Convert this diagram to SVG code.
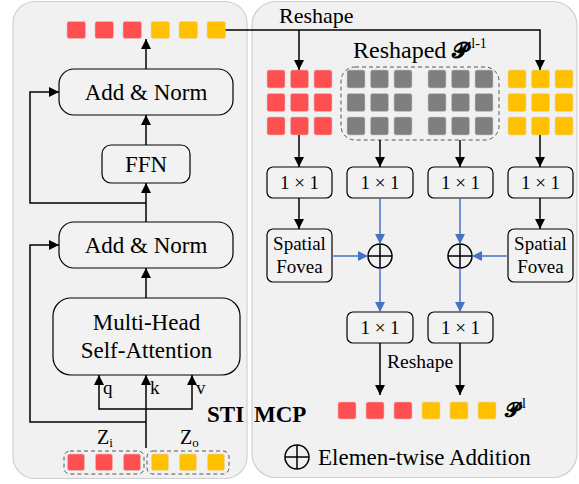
<svg xmlns="http://www.w3.org/2000/svg" width="579" height="484" viewBox="0 0 579 484" font-family="'Liberation Serif', 'DejaVu Serif', serif">
  <style>
    .panel { fill: #f1f1f1; stroke: #cfcfcf; stroke-width: 1.2; }
    .box { fill: #f2f2f2; stroke: #000; stroke-width: 1.2; }
    text { font-family: 'Liberation Serif', 'DejaVu Serif', serif; fill: #000; }
    .b { font-weight: bold; }
    .red { fill: #fe5050; stroke: #e3c0c0; stroke-width: 0.6; }
    .yel { fill: #ffc000; stroke: #e6d7b0; stroke-width: 0.6; }
    .gry { fill: #7f7f7f; stroke: #c8c8c8; stroke-width: 0.6; }
    .wire { fill: none; stroke: #000; stroke-width: 1.5; }
    .blue { fill: none; stroke: #4472c4; stroke-width: 1.5; }
    .dash { fill: none; stroke: #555; stroke-width: 1; stroke-dasharray: 4 3; }
    .script { font-family: 'DejaVu Serif', 'DejaVu Sans', 'Noto Sans', serif; font-weight: bold; }
  </style>
  <defs>
    <marker id="ah" viewBox="0 0 10 10" refX="10" refY="5" markerWidth="10" markerHeight="10" markerUnits="userSpaceOnUse" orient="auto">
      <path d="M0,0 L10,5 L0,10 z" fill="#000"/>
    </marker>
    <marker id="ahb" viewBox="0 0 10 10" refX="10" refY="5" markerWidth="10" markerHeight="10" markerUnits="userSpaceOnUse" orient="auto">
      <path d="M0,0 L10,5 L0,10 z" fill="#4472c4"/>
    </marker>
    <g id="oplus">
      <circle cx="0" cy="0" r="12" fill="none" stroke="#000" stroke-width="1.5"/>
      <path d="M-12,0 H12 M0,-12 V12" stroke="#000" stroke-width="1.5"/>
    </g>
  </defs>

  <!-- panels -->
  <rect class="panel" x="13" y="1.5" width="234" height="477" rx="22"/>
  <rect class="panel" x="252" y="1.5" width="325" height="476" rx="24"/>

  <!-- STI: transformer block -->
  <g id="sti-out-tokens">
    <rect class="red" x="67" y="21.5" width="18.5" height="17" rx="2"/>
    <rect class="red" x="95" y="21.5" width="18.5" height="17" rx="2"/>
    <rect class="red" x="123" y="21.5" width="18.5" height="17" rx="2"/>
    <rect class="yel" x="151" y="21.5" width="18.5" height="17" rx="2"/>
    <rect class="yel" x="179" y="21.5" width="18.5" height="17" rx="2"/>
    <rect class="yel" x="207" y="21.5" width="18.5" height="17" rx="2"/>
  </g>
  <g id="add-norm-2">
    <rect class="box" x="59" y="69" width="174" height="46" rx="15"/>
    <text x="146" y="100" font-size="23" text-anchor="middle">Add &amp; Norm</text>
  </g>
  <g id="ffn">
    <rect class="box" x="102" y="145" width="88" height="38" rx="9"/>
    <text x="146" y="172" font-size="23" text-anchor="middle">FFN</text>
  </g>
  <g id="add-norm-1">
    <rect class="box" x="59" y="222" width="174" height="46" rx="15"/>
    <text x="146" y="253" font-size="23" text-anchor="middle">Add &amp; Norm</text>
  </g>
  <g id="mhsa">
    <rect class="box" x="53" y="298" width="187" height="77" rx="18"/>
    <text x="146.5" y="330" font-size="23" text-anchor="middle">Multi-Head</text>
    <text x="146.5" y="358" font-size="23" text-anchor="middle">Self-Attention</text>
  </g>
  <g id="sti-in-tokens">
    <rect class="dash" x="64" y="451" width="80" height="23" rx="6"/>
    <rect class="dash" x="147" y="451" width="82" height="23" rx="6"/>
    <rect class="red" x="67.5" y="454" width="17" height="16.5" rx="2"/>
    <rect class="red" x="95.5" y="454" width="17" height="16.5" rx="2"/>
    <rect class="red" x="123.5" y="454" width="17" height="16.5" rx="2"/>
    <rect class="yel" x="151.5" y="454" width="17" height="16.5" rx="2"/>
    <rect class="yel" x="179.5" y="454" width="17" height="16.5" rx="2"/>
    <rect class="yel" x="207.5" y="454" width="17" height="16.5" rx="2"/>
    <text x="97" y="444" font-size="20">Z<tspan font-size="13" dy="3">i</tspan></text>
    <text x="180" y="444" font-size="20">Z<tspan font-size="13" dy="3">o</tspan></text>
  </g>
  <text x="103" y="394" font-size="19">q</text>
  <text x="150" y="394" font-size="19">k</text>
  <text x="196" y="394" font-size="19">v</text>
  <text class="b" x="207" y="422" font-size="23">STI</text>

  <!-- MCP: multi-scale patch branch -->
  <g id="grid-red">
    <rect class="red" x="267" y="70" width="18" height="18" rx="2"/>
    <rect class="red" x="290.5" y="70" width="18" height="18" rx="2"/>
    <rect class="red" x="314" y="70" width="18" height="18" rx="2"/>
    <rect class="red" x="267" y="93.5" width="18" height="18" rx="2"/>
    <rect class="red" x="290.5" y="93.5" width="18" height="18" rx="2"/>
    <rect class="red" x="314" y="93.5" width="18" height="18" rx="2"/>
    <rect class="red" x="267" y="117" width="18" height="18" rx="2"/>
    <rect class="red" x="290.5" y="117" width="18" height="18" rx="2"/>
    <rect class="red" x="314" y="117" width="18" height="18" rx="2"/>
  </g>
  <g id="grid-prev">
    <rect class="dash" x="341" y="67" width="158" height="73" rx="14"/>
    <rect class="gry" x="347" y="70" width="18" height="18" rx="2"/>
    <rect class="gry" x="370.5" y="70" width="18" height="18" rx="2"/>
    <rect class="gry" x="394" y="70" width="18" height="18" rx="2"/>
    <rect class="gry" x="347" y="93.5" width="18" height="18" rx="2"/>
    <rect class="gry" x="370.5" y="93.5" width="18" height="18" rx="2"/>
    <rect class="gry" x="394" y="93.5" width="18" height="18" rx="2"/>
    <rect class="gry" x="347" y="117" width="18" height="18" rx="2"/>
    <rect class="gry" x="370.5" y="117" width="18" height="18" rx="2"/>
    <rect class="gry" x="394" y="117" width="18" height="18" rx="2"/>
    <rect class="gry" x="428" y="70" width="18" height="18" rx="2"/>
    <rect class="gry" x="451.5" y="70" width="18" height="18" rx="2"/>
    <rect class="gry" x="475" y="70" width="18" height="18" rx="2"/>
    <rect class="gry" x="428" y="93.5" width="18" height="18" rx="2"/>
    <rect class="gry" x="451.5" y="93.5" width="18" height="18" rx="2"/>
    <rect class="gry" x="475" y="93.5" width="18" height="18" rx="2"/>
    <rect class="gry" x="428" y="117" width="18" height="18" rx="2"/>
    <rect class="gry" x="451.5" y="117" width="18" height="18" rx="2"/>
    <rect class="gry" x="475" y="117" width="18" height="18" rx="2"/>
    <text x="353" y="58" font-size="24">Reshaped <tspan class="script" font-size="22">𝓟</tspan><tspan font-size="14" dx="3" dy="-10">l-1</tspan></text>
  </g>
  <g id="grid-yellow">
    <rect class="yel" x="508" y="70" width="18" height="18" rx="2"/>
    <rect class="yel" x="531.5" y="70" width="18" height="18" rx="2"/>
    <rect class="yel" x="555" y="70" width="18" height="18" rx="2"/>
    <rect class="yel" x="508" y="93.5" width="18" height="18" rx="2"/>
    <rect class="yel" x="531.5" y="93.5" width="18" height="18" rx="2"/>
    <rect class="yel" x="555" y="93.5" width="18" height="18" rx="2"/>
    <rect class="yel" x="508" y="117" width="18" height="18" rx="2"/>
    <rect class="yel" x="531.5" y="117" width="18" height="18" rx="2"/>
    <rect class="yel" x="555" y="117" width="18" height="18" rx="2"/>
  </g>
  <text x="279" y="23" font-size="22">Reshape</text>

  <g id="conv-a">
    <rect class="box" x="267" y="167" width="65" height="31" rx="6"/>
    <text x="299.5" y="189" font-size="19" text-anchor="middle">1 × 1</text>
  </g>
  <g id="conv-b">
    <rect class="box" x="347" y="167" width="66" height="31" rx="6"/>
    <text x="380" y="189" font-size="19" text-anchor="middle">1 × 1</text>
  </g>
  <g id="conv-c">
    <rect class="box" x="428" y="167" width="65" height="31" rx="6"/>
    <text x="460.5" y="189" font-size="19" text-anchor="middle">1 × 1</text>
  </g>
  <g id="conv-d">
    <rect class="box" x="508" y="167" width="65" height="31" rx="6"/>
    <text x="540.5" y="189" font-size="19" text-anchor="middle">1 × 1</text>
  </g>
  <g id="fovea-left">
    <rect class="box" x="267" y="229" width="65" height="53" rx="6"/>
    <text x="299.5" y="250" font-size="19" text-anchor="middle">Spatial</text>
    <text x="299.5" y="273" font-size="19" text-anchor="middle">Fovea</text>
  </g>
  <g id="fovea-right">
    <rect class="box" x="508" y="229" width="65" height="53" rx="6"/>
    <text x="540.5" y="250" font-size="19" text-anchor="middle">Spatial</text>
    <text x="540.5" y="273" font-size="19" text-anchor="middle">Fovea</text>
  </g>
  <g id="add-left"><use href="#oplus" x="380" y="256"/></g>
  <g id="add-right"><use href="#oplus" x="460" y="256"/></g>
  <g id="conv-e">
    <rect class="box" x="347" y="312" width="66" height="31" rx="6"/>
    <text x="380" y="334" font-size="19" text-anchor="middle">1 × 1</text>
  </g>
  <g id="conv-f">
    <rect class="box" x="428" y="312" width="65" height="31" rx="6"/>
    <text x="460.5" y="334" font-size="19" text-anchor="middle">1 × 1</text>
  </g>
  <text x="387" y="368" font-size="19.5">Reshape</text>
  <g id="mcp-out-tokens">
    <rect class="red" x="338" y="402" width="18" height="17" rx="2"/>
    <rect class="red" x="366" y="402" width="18" height="17" rx="2"/>
    <rect class="red" x="394" y="402" width="18" height="17" rx="2"/>
    <rect class="yel" x="422" y="402" width="18" height="17" rx="2"/>
    <rect class="yel" x="450" y="402" width="18" height="17" rx="2"/>
    <rect class="yel" x="478" y="402" width="18" height="17" rx="2"/>
    <text x="505" y="417" font-size="22"><tspan class="script" font-size="20">𝓟</tspan><tspan font-size="14" dx="3" dy="-9">l</tspan></text>
  </g>
  <text class="b" x="254" y="422" font-size="23">MCP</text>

  <g id="legend">
    <use href="#oplus" x="297" y="457"/>
    <text x="318" y="465" font-size="23">Elemen-twise Addition</text>
  </g>

  <!-- connectors -->
  <g id="connectors">
    <path class="wire" d="M146,69 V39" marker-end="url(#ah)"/>
    <path class="wire" d="M146,145 V115" marker-end="url(#ah)"/>
    <path class="wire" d="M146,222 V183" marker-end="url(#ah)"/>
    <path class="wire" d="M146,298 V268" marker-end="url(#ah)"/>
    <path class="wire" d="M146,203 H30 V92 H59" marker-end="url(#ah)"/>
    <path class="wire" d="M146,422 H30 V245 H59" marker-end="url(#ah)"/>
    <path class="wire" d="M146,448 V375" marker-end="url(#ah)"/>
    <path class="wire" d="M146,409 H99 V375" marker-end="url(#ah)"/>
    <path class="wire" d="M146,409 H192 V375" marker-end="url(#ah)"/>

    <path class="wire" d="M225.5,30 H540 V70" marker-end="url(#ah)"/>
    <path class="wire" d="M299,30 V70" marker-end="url(#ah)"/>
    <path class="wire" d="M299,135 V167" marker-end="url(#ah)"/>
    <path class="wire" d="M380,140 V167" marker-end="url(#ah)"/>
    <path class="wire" d="M460,140 V167" marker-end="url(#ah)"/>
    <path class="wire" d="M540,135 V167" marker-end="url(#ah)"/>
    <path class="wire" d="M299,198 V229" marker-end="url(#ah)"/>
    <path class="wire" d="M540,198 V229" marker-end="url(#ah)"/>

    <path class="blue" d="M380,198 V244" marker-end="url(#ahb)"/>
    <path class="blue" d="M460,198 V244" marker-end="url(#ahb)"/>
    <path class="blue" d="M332,256 H368" marker-end="url(#ahb)"/>
    <path class="blue" d="M508,256 H472" marker-end="url(#ahb)"/>
    <path class="blue" d="M380,268 V312" marker-end="url(#ahb)"/>
    <path class="blue" d="M460,268 V312" marker-end="url(#ahb)"/>

    <path class="wire" d="M380,343 V395" marker-end="url(#ah)"/>
    <path class="wire" d="M460,343 V395" marker-end="url(#ah)"/>
  </g>
</svg>
